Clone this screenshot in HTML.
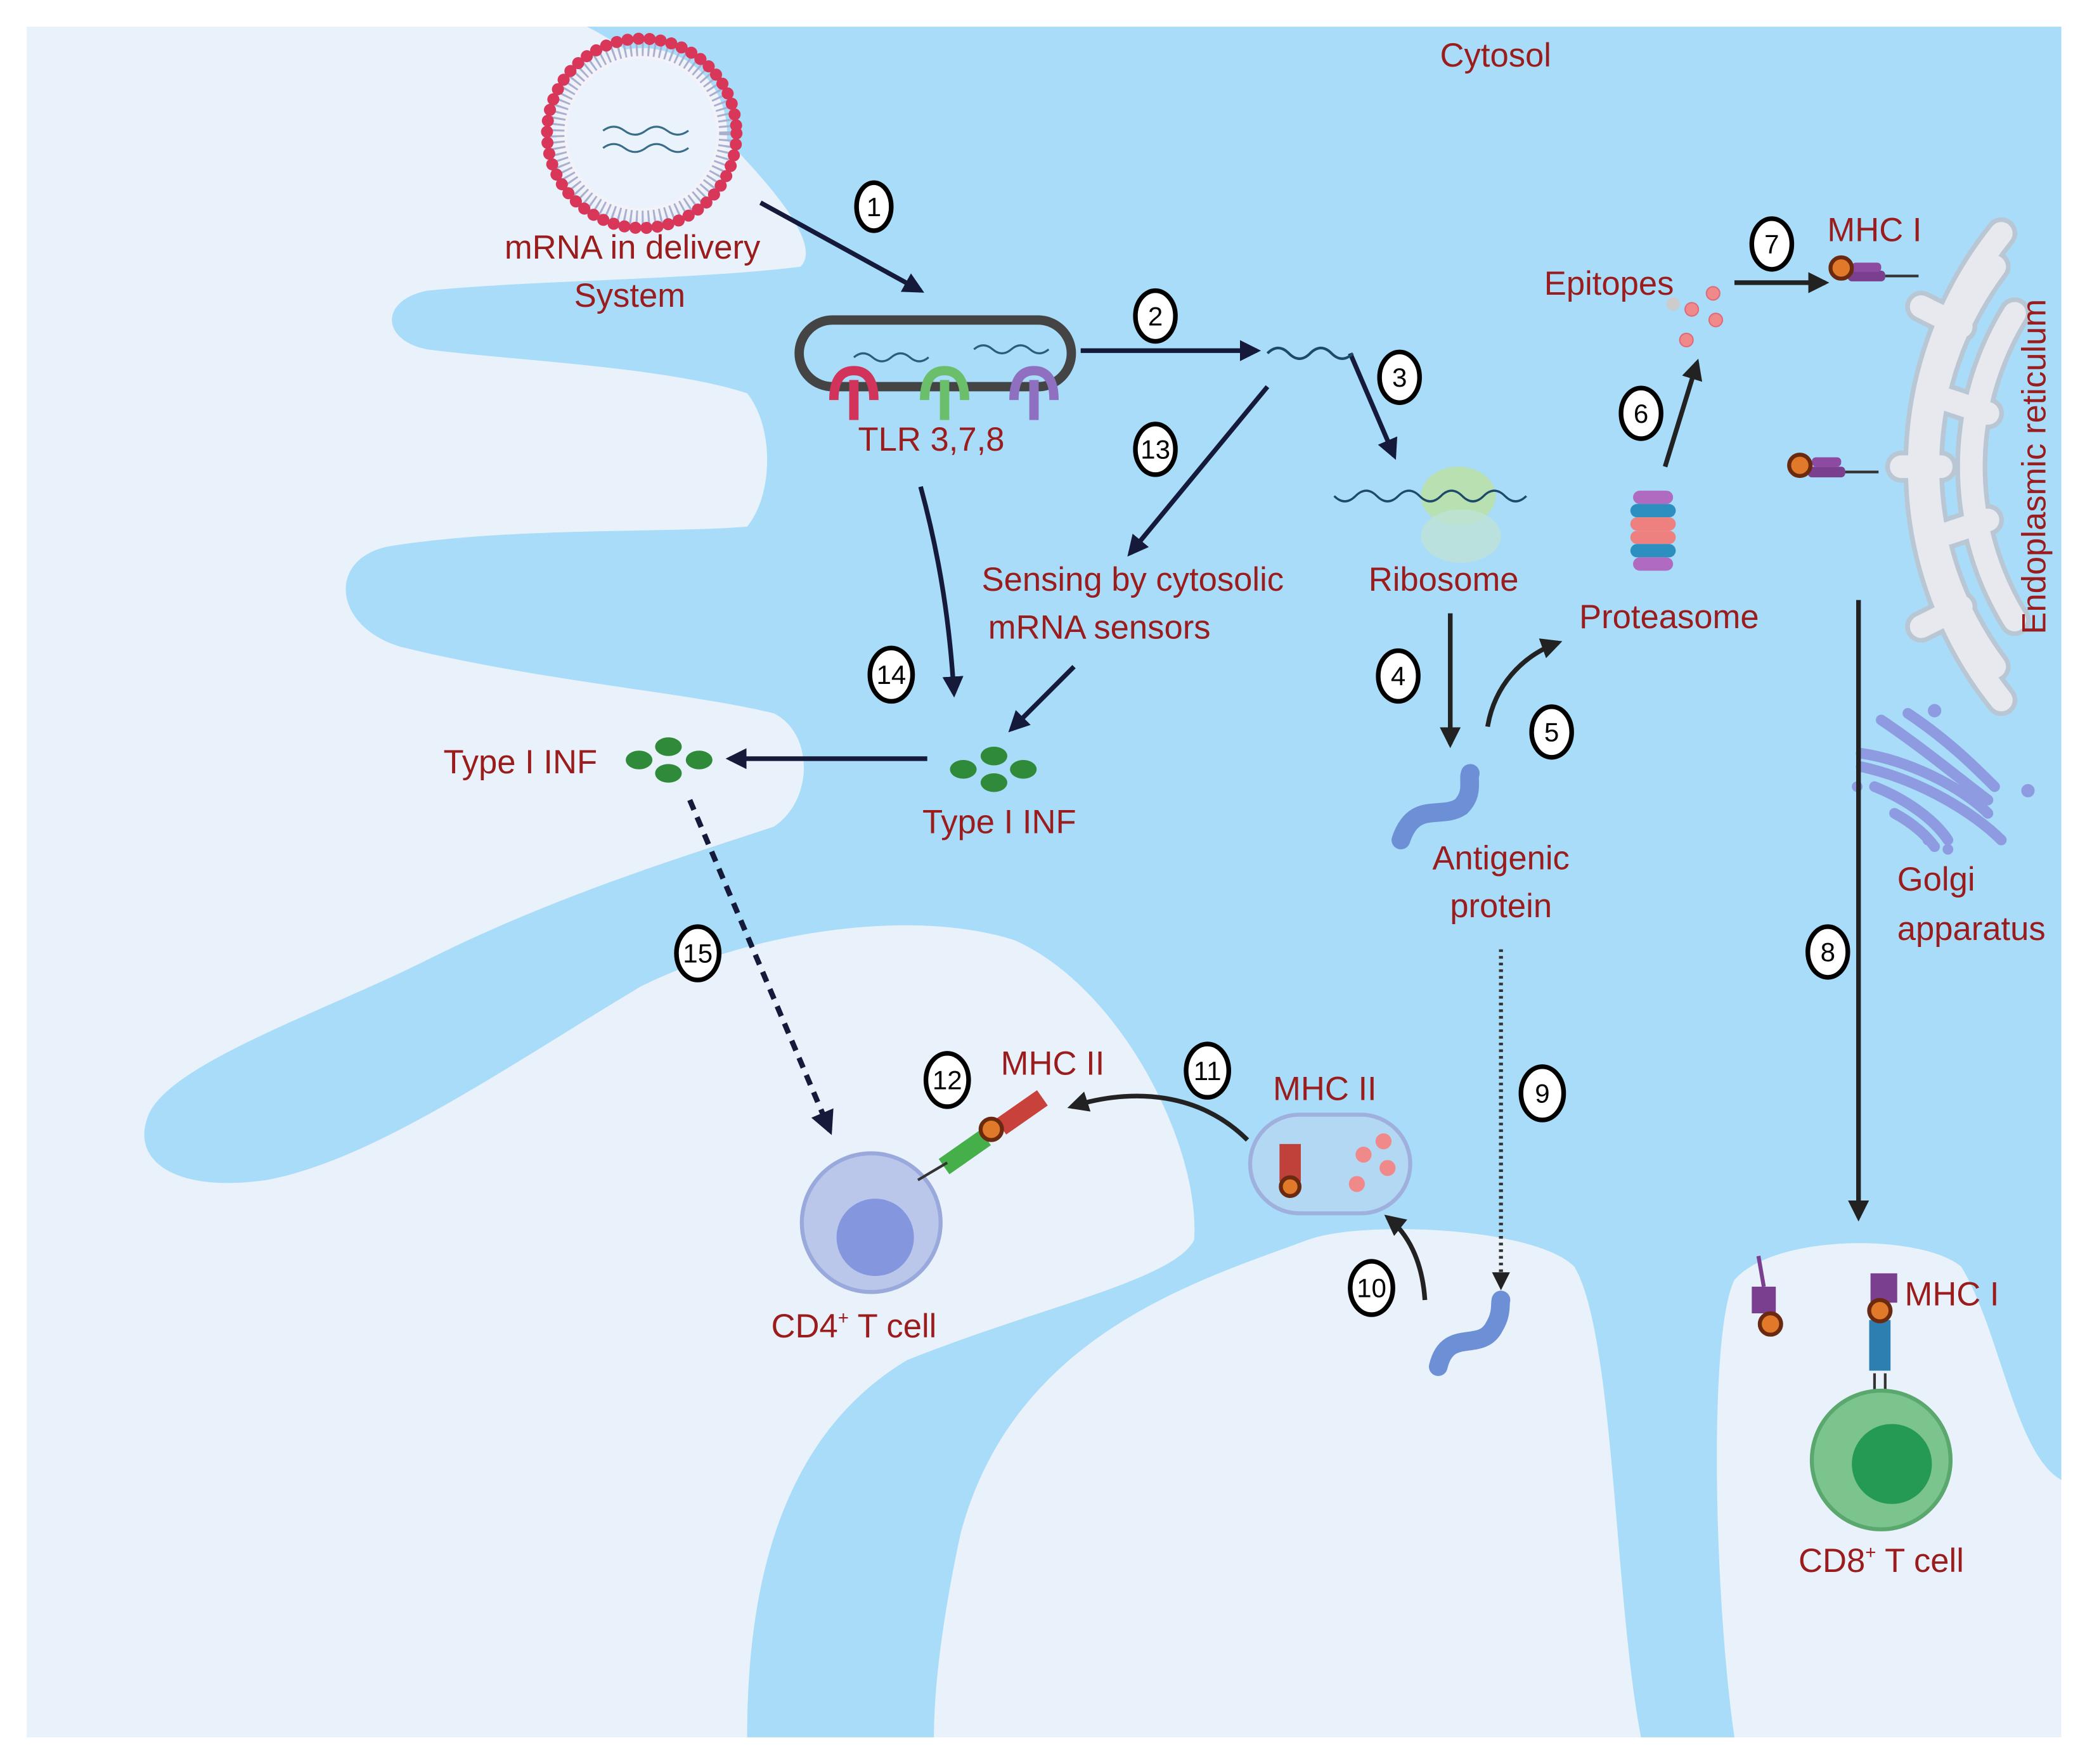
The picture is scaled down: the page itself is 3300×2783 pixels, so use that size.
<!DOCTYPE html>
<html><head><meta charset="utf-8"><style>
html,body{margin:0;padding:0;background:#fff}
svg{display:block}
text{font-family:"Liberation Sans",sans-serif;fill:#9a1c1c;font-size:25px}
.b text{fill:#000;font-size:20px}
</style></head><body>
<svg width="3300" height="2783" viewBox="0 0 1568 1323" preserveAspectRatio="none" xmlns="http://www.w3.org/2000/svg">
<defs>
<marker id="ah" viewBox="0 0 10 10" refX="8" refY="5" markerWidth="4.5" markerHeight="4.5" orient="auto"><path d="M0,0 L10,5 L0,10 z" fill="#151a3a"/></marker>
<marker id="ak" viewBox="0 0 10 10" refX="8" refY="5" markerWidth="4.5" markerHeight="4.5" orient="auto"><path d="M0,0 L10,5 L0,10 z" fill="#222"/></marker>
</defs>
<rect width="1568" height="1323" fill="#fff"/>
<rect x="20" y="20" width="1525" height="1283" fill="#e9f2fb"/>
<path fill="#a8dcf8" d="M440,20 L1545,20 L1545,1110 C1510,1090 1500,1000 1470,950 C1440,925 1330,925 1300,960 C1280,1000 1285,1200 1300,1303 L1230,1303 C1210,1200 1210,1000 1180,950 C1150,920 1020,915 980,930 C900,960 760,1000 720,1150 C705,1220 700,1270 700,1303 L560,1303 C560,1200 580,1080 680,1020 C780,980 880,960 895,930 C900,860 840,740 760,705 C680,680 560,700 480,740 C380,800 280,870 200,885 C130,895 100,870 110,840 C120,800 240,760 320,720 C420,670 520,640 580,620 C610,600 610,550 580,535 C520,520 400,510 300,485 C250,470 245,420 290,410 C380,395 500,400 560,395 C580,370 580,320 560,295 C500,275 380,270 320,262 C285,255 285,225 320,218 C400,210 520,210 600,200 C620,180 560,120 520,80 C490,50 460,30 440,20 Z"/>

<!-- ER -->
<g fill="none" stroke-linecap="round">
<g stroke="#b9c7d4" stroke-width="24">
<path d="M1500,175 A280,280 0 0 0 1500,525"/>
<path d="M1495,200 A250,250 0 0 0 1495,500"/>
<path d="M1510,235 A220,220 0 0 0 1510,465"/>
<path d="M1440,230 L1470,245 M1425,350 L1455,350 M1440,470 L1470,455 M1460,300 L1490,310 M1460,400 L1490,390"/>
</g>
<g stroke="#e7e9ee" stroke-width="17">
<path d="M1500,175 A280,280 0 0 0 1500,525"/>
<path d="M1495,200 A250,250 0 0 0 1495,500"/>
<path d="M1510,235 A220,220 0 0 0 1510,465"/>
<path d="M1440,230 L1470,245 M1425,350 L1455,350 M1440,470 L1470,455 M1460,300 L1490,310 M1460,400 L1490,390"/>
</g>
</g>
<!-- Golgi -->
<g fill="none" stroke="#8e9be0" stroke-width="8" stroke-linecap="round">
<path d="M1395,565 C1430,570 1470,590 1490,610"/>
<path d="M1395,575 C1440,585 1480,610 1500,630"/>
<path d="M1410,540 C1440,560 1470,585 1490,600"/>
<path d="M1430,535 C1460,555 1480,575 1495,590"/>
<path d="M1405,590 C1430,600 1450,615 1460,630"/>
<path d="M1420,610 C1435,618 1445,628 1450,635"/>
</g>
<g fill="#8e9be0"><circle cx="1520" cy="593" r="5"/><circle cx="1392" cy="590" r="4"/><circle cx="1445" cy="630" r="4"/><circle cx="1460" cy="637" r="4"/><circle cx="1450" cy="533" r="5"/></g>

<!-- delivery system -->
<circle cx="481" cy="100" r="64" fill="#f2f2f8" stroke="#a8b0d0" stroke-width="12" stroke-dasharray="1.5 3"/>
<circle cx="481" cy="100" r="71" fill="none" stroke="#d9375a" stroke-width="9" stroke-dasharray="0.1 8.2" stroke-linecap="round"/>
<circle cx="481" cy="100" r="56" fill="#eaf2fb"/>
<path d="M452,98 q8,-6 16,0 t16,0 t16,0 t16,0 M452,111 q8,-6 16,0 t16,0 t16,0 t16,0" fill="none" stroke="#3a6d8a" stroke-width="1.5"/>
<text x="474" y="194" text-anchor="middle">mRNA in delivery</text>
<text x="472" y="230" text-anchor="middle">System</text>

<!-- endosome -->
<rect x="599" y="240" width="204" height="50" rx="25" fill="#a8dcf8" stroke="#444" stroke-width="7"/>
<path d="M640,268 q7,-6 14,0 t14,0 t14,0 t14,0 M730,262 q7,-6 14,0 t14,0 t14,0 t14,0" fill="none" stroke="#2a5d7a" stroke-width="1.5"/>
<g fill="none" stroke-width="7">
<path d="M625,300 q0,-22 15,-22 q15,0 15,22" stroke="#d2335a"/><path d="M640,285 v30" stroke="#d2335a"/>
<path d="M693,300 q0,-22 15,-22 q15,0 15,22" stroke="#6bbf6b"/><path d="M708,285 v30" stroke="#6bbf6b"/>
<path d="M760,300 q0,-22 15,-22 q15,0 15,22" stroke="#8f6fbf"/><path d="M775,285 v30" stroke="#8f6fbf"/>
</g>
<text x="698" y="338" text-anchor="middle">TLR 3,7,8</text>

<!-- arrows -->
<g fill="none" stroke="#151a3a" stroke-width="3.5" marker-end="url(#ah)">
<path d="M570,152 L690,218"/>
<path d="M810,263 L942,263"/>
<path d="M1012,265 L1045,342"/>
<path d="M950,290 L847,415"/>
<path d="M690,365 C705,420 712,470 715,520"/>
<path d="M805,500 L758,547"/>
<path d="M695,569 L547,569"/>
</g>
<g fill="none" stroke="#222" stroke-width="3.5" marker-end="url(#ak)">
<path d="M1087,460 L1087,558"/>
<path d="M1115,545 C1120,515 1140,492 1168,482"/>
<path d="M1248,350 L1272,272"/>
<path d="M1300,212 L1368,212"/>
<path d="M1393,450 L1393,913"/>
<path d="M1068,975 C1066,945 1055,925 1040,913"/>
<path d="M935,855 C900,820 850,815 803,830"/>
</g>
<path d="M1125,712 L1125,965" stroke="#333" stroke-width="3" stroke-dasharray="2 3" fill="none" marker-end="url(#ak)"/>
<path d="M517,600 L622,848" stroke="#151a3a" stroke-width="4" stroke-dasharray="8 6" fill="none" marker-end="url(#ah)"/>

<!-- mRNA strand -->
<path d="M950,265 q8,-8 16,0 t16,0 t16,0 t16,0" fill="none" stroke="#1e4a6a" stroke-width="2"/>
<!-- ribosome -->
<ellipse cx="1093" cy="372" rx="28" ry="22" fill="#b8e0b0"/>
<ellipse cx="1095" cy="402" rx="30" ry="20" fill="#bfe2d8" opacity="0.8"/>
<path d="M1000,372 q8,8 16,0 t16,0 t16,0 t16,0 t16,0 t16,0 t16,0 t16,0 t16,0" fill="none" stroke="#1e4a6a" stroke-width="1.6"/>
<text x="1082" y="443" text-anchor="middle">Ribosome</text>
<!-- proteasome -->
<g>
<rect x="1224" y="368" width="30" height="10" rx="5" fill="#b06bc0"/>
<rect x="1222" y="378" width="34" height="10" rx="5" fill="#2c8fc0"/>
<rect x="1222" y="388" width="34" height="10" rx="5" fill="#ee8080"/>
<rect x="1222" y="398" width="34" height="10" rx="5" fill="#ee8080"/>
<rect x="1222" y="408" width="34" height="10" rx="5" fill="#2c8fc0"/>
<rect x="1224" y="418" width="30" height="10" rx="5" fill="#b06bc0"/>
</g>
<text x="1251" y="471" text-anchor="middle">Proteasome</text>
<!-- epitopes -->
<g fill="#f08a8a" stroke="#e06a7a"><circle cx="1268" cy="232" r="5"/><circle cx="1284" cy="220" r="5"/><circle cx="1286" cy="240" r="5"/><circle cx="1264" cy="255" r="5"/></g>
<circle cx="1254" cy="228" r="5" fill="#ccc"/>
<text x="1206" y="221" text-anchor="middle">Epitopes</text>
<!-- MHC I on ER -->
<g>
<rect x="1385" y="203" width="28" height="8" rx="3" fill="#7a3f8f"/><rect x="1388" y="197" width="22" height="7" rx="3" fill="#8c4aa0"/>
<line x1="1413" y1="207" x2="1438" y2="207" stroke="#333" stroke-width="2"/>
<circle cx="1380" cy="201" r="8" fill="#e07a2a" stroke="#6b2a10" stroke-width="3"/>
<rect x="1355" y="350" width="28" height="8" rx="3" fill="#7a3f8f"/><rect x="1358" y="343" width="22" height="7" rx="3" fill="#8c4aa0"/>
<line x1="1383" y1="354" x2="1408" y2="354" stroke="#333" stroke-width="2"/>
<circle cx="1349" cy="349" r="8" fill="#e07a2a" stroke="#6b2a10" stroke-width="3"/>
</g>
<text x="1405" y="181" text-anchor="middle">MHC I</text>
<text transform="translate(1533,350) rotate(-90)" text-anchor="middle">Endoplasmic reticulum</text>
<text x="1422" y="668">Golgi</text>
<text x="1422" y="705">apparatus</text>

<text x="1121" y="50" text-anchor="middle">Cytosol</text>
<text x="849" y="443" text-anchor="middle">Sensing by cytosolic</text>
<text x="824" y="479" text-anchor="middle">mRNA sensors</text>

<!-- antigenic proteins -->
<path d="M1050,630 C1060,600 1080,615 1095,605 C1105,595 1100,585 1102,580" fill="none" stroke="#6d8fd6" stroke-width="14" stroke-linecap="round"/>
<text x="1125" y="652" text-anchor="middle">Antigenic</text>
<text x="1125" y="688" text-anchor="middle">protein</text>
<path d="M1078,1025 C1085,995 1110,1015 1120,995 C1126,985 1124,978 1125,975" fill="none" stroke="#6d8fd6" stroke-width="14" stroke-linecap="round"/>

<!-- Type I INF -->
<g fill="#2f8a3a"><ellipse cx="745" cy="567" rx="10" ry="7"/><ellipse cx="722" cy="577" rx="10" ry="7"/><ellipse cx="767" cy="577" rx="10" ry="7"/><ellipse cx="745" cy="587" rx="10" ry="7"/>
<ellipse cx="501" cy="560" rx="10" ry="7"/><ellipse cx="479" cy="570" rx="10" ry="7"/><ellipse cx="524" cy="570" rx="10" ry="7"/><ellipse cx="501" cy="580" rx="10" ry="7"/></g>
<text x="749" y="625" text-anchor="middle">Type I INF</text>
<text x="390" y="580" text-anchor="middle">Type I INF</text>

<!-- vesicle -->
<rect x="937" y="836" width="120" height="74" rx="37" fill="#b3d8f4" stroke="#9fb0dd" stroke-width="3"/>
<g fill="#f08a8a"><circle cx="1037" cy="856" r="6"/><circle cx="1022" cy="866" r="6"/><circle cx="1040" cy="876" r="6"/><circle cx="1017" cy="888" r="6"/></g>
<rect x="959" y="858" width="16" height="28" fill="#c0413a"/>
<circle cx="967" cy="890" r="7" fill="#e07a2a" stroke="#6b2a10" stroke-width="3"/>
<text x="993" y="825" text-anchor="middle">MHC II</text>

<!-- CD4 cell -->
<circle cx="653" cy="917" r="52" fill="#bac6ea" stroke="#9aa9db" stroke-width="3"/>
<circle cx="656" cy="928" r="29" fill="#8396de"/>
<g transform="rotate(-35 745 850)">
<rect x="700" y="842" width="38" height="14" fill="#45b04a"/>
<rect x="752" y="842" width="38" height="14" fill="#c8413a"/>
</g>
<line x1="688" y1="885" x2="710" y2="872" stroke="#333" stroke-width="2"/>
<circle cx="743" cy="847" r="8" fill="#e07a2a" stroke="#6b2a10" stroke-width="3"/>
<text x="789" y="806" text-anchor="middle">MHC II</text>
<text x="640" y="1003" text-anchor="middle">CD4<tspan font-size="14" dy="-10">+</tspan><tspan dy="10"> T cell</tspan></text>

<!-- CD8 cell -->
<line x1="1405" y1="1030" x2="1405" y2="1055" stroke="#333" stroke-width="2"/><line x1="1413" y1="1030" x2="1413" y2="1055" stroke="#333" stroke-width="2"/>
<rect x="1401" y="990" width="16" height="38" fill="#2c7fb0"/>
<rect x="1402" y="955" width="20" height="22" fill="#7a3f8f"/>
<circle cx="1409" cy="983" r="8" fill="#e07a2a" stroke="#6b2a10" stroke-width="3"/>
<line x1="1318" y1="942" x2="1322" y2="965" stroke="#7a3f8f" stroke-width="3"/>
<rect x="1313" y="965" width="18" height="20" fill="#7a3f8f"/>
<circle cx="1327" cy="993" r="8" fill="#e07a2a" stroke="#6b2a10" stroke-width="3"/>
<circle cx="1410" cy="1095" r="52" fill="#7cc48e" stroke="#5aa86e" stroke-width="3"/>
<circle cx="1418" cy="1098" r="30" fill="#259a55"/>
<text x="1463" y="979" text-anchor="middle">MHC I</text>
<text x="1410" y="1179" text-anchor="middle">CD8<tspan font-size="14" dy="-10">+</tspan><tspan dy="10"> T cell</tspan></text>

<!-- badges -->
<g class="b" stroke="#000" stroke-width="3.5" fill="#fff">
<ellipse cx="655" cy="155" rx="13" ry="18"/><ellipse cx="866" cy="237" rx="15" ry="19"/><ellipse cx="1049" cy="283" rx="15" ry="19"/>
<ellipse cx="866" cy="337" rx="15" ry="19"/><ellipse cx="1048" cy="507" rx="15" ry="19"/><ellipse cx="1163" cy="549" rx="15" ry="19"/>
<ellipse cx="1230" cy="310" rx="15" ry="19"/><ellipse cx="1328" cy="183" rx="15" ry="19"/><ellipse cx="1370" cy="714" rx="15" ry="19"/>
<ellipse cx="1156" cy="820" rx="16" ry="20"/><ellipse cx="1028" cy="966" rx="16" ry="20"/><ellipse cx="905" cy="803" rx="16" ry="20"/>
<ellipse cx="710" cy="810" rx="16" ry="20"/><ellipse cx="668" cy="506" rx="16" ry="20"/><ellipse cx="523" cy="715" rx="16" ry="20"/>
</g>
<g class="b" text-anchor="middle">
<text x="655" y="162">1</text><text x="866" y="244">2</text><text x="1049" y="290">3</text><text x="866" y="344">13</text>
<text x="1048" y="514">4</text><text x="1163" y="556">5</text><text x="1230" y="317">6</text><text x="1328" y="190">7</text>
<text x="1370" y="721">8</text><text x="1156" y="827">9</text><text x="1028" y="973">10</text><text x="905" y="810">11</text>
<text x="710" y="817">12</text><text x="668" y="513">14</text><text x="523" y="722">15</text>
</g>
</svg>
</body></html>
